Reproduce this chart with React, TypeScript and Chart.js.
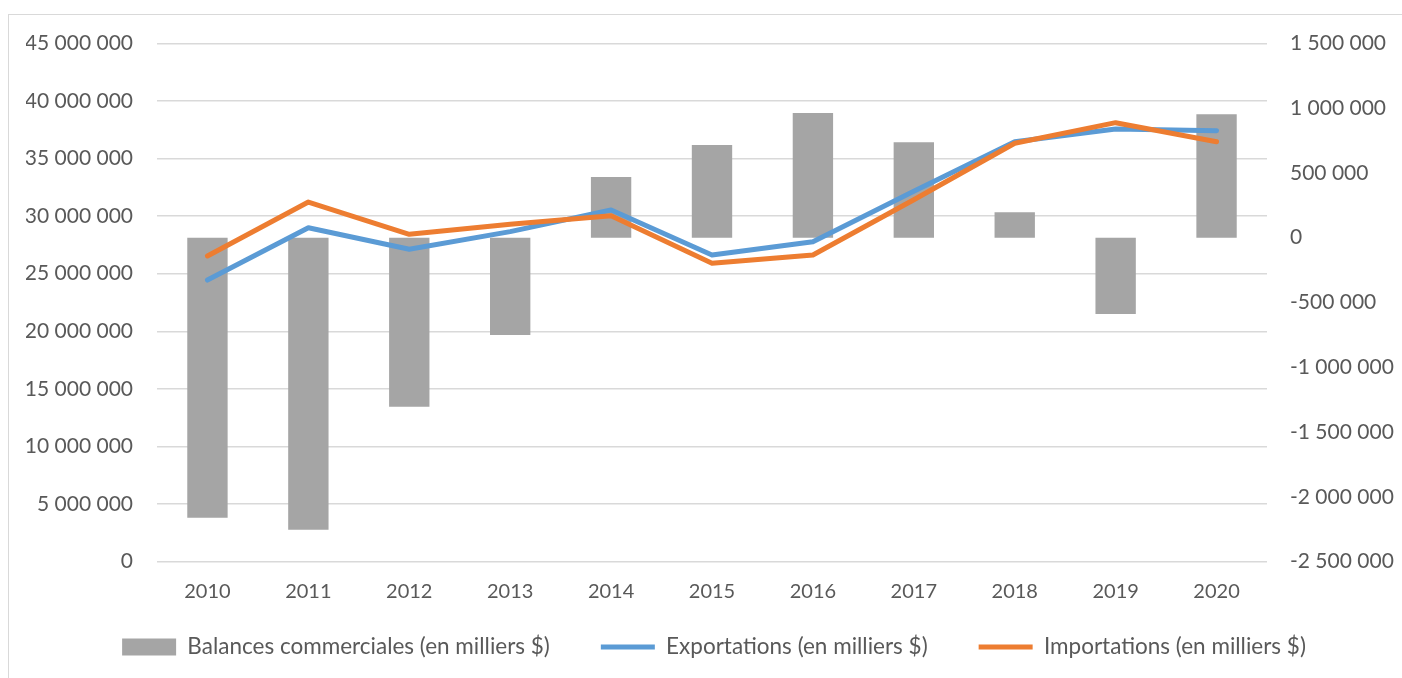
import React, { useEffect, useRef } from "react";
import { Chart, registerables } from "chart.js";

Chart.register(...registerables);

const years = ["2010", "2011", "2012", "2013", "2014", "2015", "2016", "2017", "2018", "2019", "2020"];
const balances = [-2160000, -2253000, -1304000, -751000, 468000, 715000, 962000, 736000, 196000, -589000, 952000];
const exportsK = [24450000, 28990000, 27120000, 28650000, 30530000, 26620000, 27780000, 32150000, 36460000, 37560000, 37410000];
const importsK = [26540000, 31220000, 28420000, 29290000, 30030000, 25900000, 26620000, 31420000, 36320000, 38110000, 36460000];

const labelBalances = "Balances commerciales (en milliers $)";
const labelExports = "Exportations (en milliers $)";
const labelImports = "Importations (en milliers $)";

const fmt = (v: number) => {
  const neg = v < 0;
  const s = Math.abs(Math.round(v)).toString().replace(/\B(?=(\d{3})+(?!\d))/g, " ");
  return (neg ? "-" : "") + s;
};

const FAMILY = "Lato, 'Open Sans', sans-serif";
const TICK_FONT = { family: FAMILY, size: 21 };
const X_FONT = { family: FAMILY, size: 20 };
const LEGEND_FONT = { family: FAMILY, size: 22.5 };
const TEXT = "#595959";
const GRID = "#d9d9d9";

export default function App() {
  const ref = useRef<HTMLCanvasElement | null>(null);
  useEffect(() => {
    if (!ref.current) return;
    const chart = new Chart(ref.current, {
      type: "bar",
      data: {
        labels: years,
        datasets: [
          {
            type: "bar",
            label: labelBalances,
            data: balances,
            yAxisID: "y1",
            backgroundColor: "#a5a5a5",
            borderWidth: 0,
            barPercentage: 0.4,
            categoryPercentage: 1,
            order: 3,
            pointStyle: "rect",
          } as any,
          {
            type: "line",
            label: labelExports,
            data: exportsK,
            yAxisID: "y",
            borderColor: "#5b9bd5",
            backgroundColor: "#5b9bd5",
            borderWidth: 5,
            borderCapStyle: "round",
            borderJoinStyle: "round",
            pointRadius: 0,
            pointStyle: "line",
            tension: 0,
            order: 2,
          } as any,
          {
            type: "line",
            label: labelImports,
            data: importsK,
            yAxisID: "y",
            borderColor: "#ed7d31",
            backgroundColor: "#ed7d31",
            borderWidth: 5,
            borderCapStyle: "round",
            borderJoinStyle: "round",
            pointRadius: 0,
            pointStyle: "line",
            tension: 0,
            order: 1,
          } as any,
        ],
      },
      options: {
        responsive: false,
        animation: false,
        layout: { padding: { top: 43.3, left: 26, right: 0, bottom: 9.75 } },
        plugins: {
          tooltip: { enabled: false },
          legend: {
            position: "bottom",
            title: {
              display: true,
              text: "",
              font: { size: 1 },
              padding: { top: -28.15, bottom: 0 },
            },
            labels: {
              usePointStyle: true,
              pointStyleWidth: 54,
              boxHeight: 17,
              padding: 51,
              color: TEXT,
              font: LEGEND_FONT,
              sort: (a: any, b: any) => a.datasetIndex - b.datasetIndex,
            },
          },
        },
        scales: {
          x: {
            grid: { display: false, drawTicks: false },
            border: { display: false },
            ticks: { color: TEXT, font: X_FONT, padding: 18 },
            afterFit: (s: any) => {
              s.height = 50;
            },
          },
          y: {
            position: "left",
            min: 0,
            max: 45000000,
            grid: { color: GRID, lineWidth: 1.5, drawTicks: false },
            border: { display: false },
            ticks: {
              stepSize: 5000000,
              color: TEXT,
              font: TICK_FONT,
              padding: 24,
              callback: (v: any) => fmt(Number(v)),
            },
            afterFit: (s: any) => {
              s.width = 131;
            },
          },
          y1: {
            position: "right",
            min: -2500000,
            max: 1500000,
            grid: { display: false, drawTicks: false },
            border: { display: false },
            ticks: {
              stepSize: 500000,
              color: TEXT,
              font: TICK_FONT,
              padding: 23,
              callback: (v: any) => fmt(Number(v)),
            },
            afterFit: (s: any) => {
              s.width = 135;
            },
          },
        },
      },
    } as any);
    return () => chart.destroy();
  }, []);

  return (
    <div
      style={{
        position: "fixed",
        left: 0,
        top: 0,
        width: 1402,
        height: 678,
        overflow: "hidden",
        background: "#ffffff",
      }}
    >
      <div
        style={{
          position: "absolute",
          left: 8,
          top: 14,
          width: 1500,
          height: 800,
          border: "1px solid #d9d9d9",
        }}
      />
      <canvas
        ref={ref}
        width={1402}
        height={678}
        style={{ position: "absolute", left: 0, top: 0 }}
      />
    </div>
  );
}
